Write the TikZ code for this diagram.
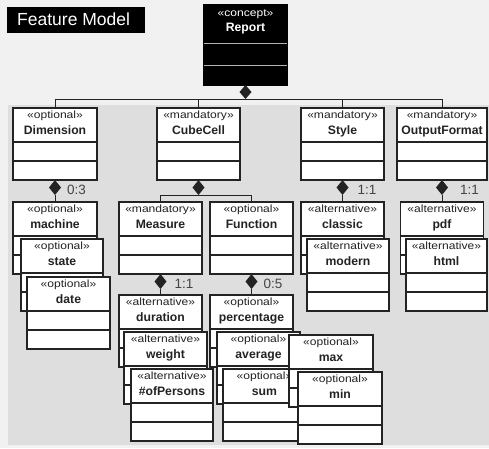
\documentclass[tikz,border=0pt]{standalone}
\usepackage{fontspec}
\setmainfont{Liberation Sans}
\newfontfamily\stfont[FakeStretch=1.15]{Liberation Sans}
\usetikzlibrary{shapes.geometric}
\definecolor{bglight}{RGB}{241,241,241}
\definecolor{panel}{RGB}{222,222,222}
\definecolor{ink}{RGB}{35,35,35}
\tikzset{
 featbox/.style={draw=ink, line width=1.1pt, fill=white, rectangle, inner sep=0pt, outer sep=0pt, minimum height=72pt, anchor=north west},
 sepline/.style={draw=ink, line width=1.1pt},
 stereo/.style={font=\stfont\fontsize{10.5}{12}\selectfont, text=ink, anchor=base, inner sep=0pt},
 fname/.style={font=\bfseries\fontsize{12.2}{14}\selectfont, text=ink, anchor=base, inner sep=0pt},
 dmd/.style={diamond, fill=ink, draw=none, inner sep=0pt, outer sep=0pt, minimum width=12pt, minimum height=15pt, anchor=north},
 conn/.style={draw=ink, line width=1pt},
 mult/.style={font=\fontsize{13.5}{15}\selectfont, text=ink!85, anchor=west, inner sep=0pt},
}
% name, x, y, width, stereotype, title
\newcommand\feat[6]{%
 \node[featbox, minimum width=#4pt] (#1) at (#2,#3) {};
 \draw[sepline] (#2,{#3+34}) -- ({#2+#4},{#3+34});
 \draw[sepline] (#2,{#3+53}) -- ({#2+#4},{#3+53});
 \node[stereo] (#1-st) at ({#2+#4/2},{#3+10.8}) {#5};
 \node[fname] (#1-nm) at ({#2+#4/2},{#3+26.5}) {#6};
}
\begin{document}
\begin{tikzpicture}[x=1pt,y=-1pt]
\useasboundingbox (0,0) rectangle (489,448);
\fill[bglight] (0,0) rectangle (489,448);
\fill[panel] (8,105) rectangle (489,445);
% title
\node[fill=black, anchor=north west, minimum width=138pt, minimum height=26pt, inner sep=0pt] (title) at (7,7) {};
\node[font=\fontsize{17.5}{20}\selectfont, text=white, anchor=base west, inner sep=0pt] (title-t) at (17,25) {Feature Model};
% Report
\node[featbox, fill=black, draw=black, minimum width=83pt, minimum height=80pt] (Report) at (204,5) {};
\draw[gray!60, line width=0.9pt] (204,43) -- (287,43);
\draw[gray!60, line width=0.9pt] (204,65) -- (287,65);
\node[stereo, text=white] (Report-st) at (245.5,16) {«concept»};
\node[fname, text=white] (Report-nm) at (245.5,31.5) {Report};
% level 1
\feat{Dimension}{13}{108}{84}{«optional»}{Dimension}
\feat{CubeCell}{157}{108}{83}{«mandatory»}{CubeCell}
\feat{Style}{301}{108}{83}{«mandatory»}{Style}
\feat{OutputFormat}{397}{108}{90}{«mandatory»}{OutputFormat}
% level 2
\feat{machine}{13}{202}{84}{«optional»}{machine}
\feat{state}{21}{239}{82}{«optional»}{state}
\feat{date}{27}{277}{83}{«optional»}{date}
\feat{Measure}{119}{202}{83}{«mandatory»}{Measure}
\feat{Function}{210}{202}{83}{«optional»}{Function}
\feat{classic}{301}{202}{83}{«alternative»}{classic}
\feat{modern}{307}{239}{82}{«alternative»}{modern}
\feat{pdf}{400.5}{202}{83}{«alternative»}{pdf}
\feat{html}{406}{239}{81}{«alternative»}{html}
% level 3
\feat{duration}{119}{295}{83}{«alternative»}{duration}
\feat{weight}{124}{332}{83}{«alternative»}{weight}
\feat{ofPersons}{131}{369}{82}{«alternative»}{\#ofPersons}
\feat{percentage}{210}{295}{83}{«optional»}{percentage}
\feat{average}{217}{332}{83}{«optional»}{average}
\feat{sum}{223}{369}{83}{«optional»}{sum}
\feat{max}{289}{335}{84}{«optional»}{max}
\feat{min}{298}{372}{84}{«optional»}{min}
% diamonds
\node[dmd, minimum height=14pt] (dRep) at (Report.south) {};
\node[dmd] (dDim) at (Dimension.south) {};
\node[dmd] (dCube) at (CubeCell.south) {};
\node[dmd] (dStyle) at (Style.south) {};
\node[dmd] (dOut) at (OutputFormat.south) {};
\node[dmd] (dMeas) at (Measure.south) {};
\node[dmd] (dFunc) at (Function.south) {};
% connectors
\draw[conn] (dRep.south) -| (Dimension.north);
\draw[conn] (dRep.south) -| (CubeCell.north);
\draw[conn] (dRep.south) -| (Style.north);
\draw[conn] (dRep.south) -| (OutputFormat.north);
\draw[conn] (dDim.south) -- (machine.north);
\draw[conn] (dCube.south) -| (Measure.north);
\draw[conn] (dCube.south) -| (Function.north);
\draw[conn] (dStyle.south) -- (classic.north);
\draw[conn] (dOut.south) -- (pdf.north);
\draw[conn] (dMeas.south) -- (duration.north);
\draw[conn] (dFunc.south) -- (percentage.north);
% multiplicities
\node[mult] (mDim) at ([xshift=6pt,yshift=-2.5pt]dDim.east) {0:3};
\node[mult] (mStyle) at ([xshift=9pt,yshift=-2.5pt]dStyle.east) {1:1};
\node[mult] (mOut) at ([xshift=12pt,yshift=-2.5pt]dOut.east) {1:1};
\node[mult] (mMeas) at ([xshift=8pt,yshift=-2.5pt]dMeas.east) {1:1};
\node[mult] (mFunc) at ([xshift=6pt,yshift=-2.5pt]dFunc.east) {0:5};
\end{tikzpicture}
\end{document}
